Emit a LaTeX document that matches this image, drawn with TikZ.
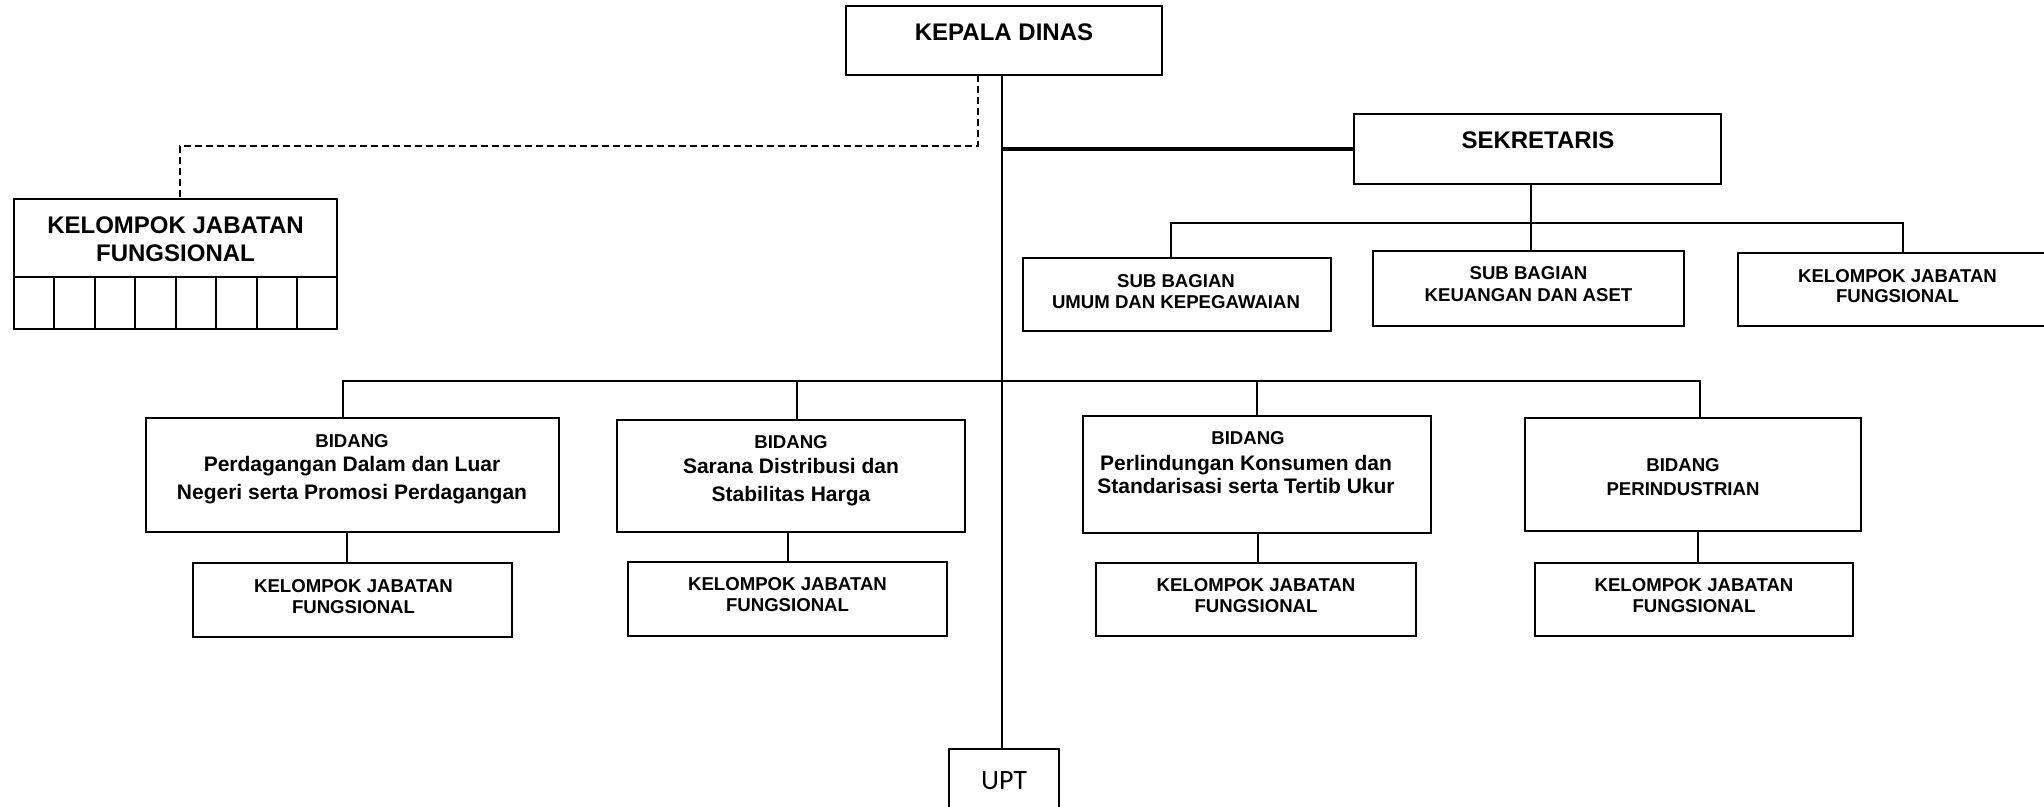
\documentclass[tikz,border=0pt]{standalone}
\usepackage{fontspec}
\setmainfont{Liberation Sans}
\newfontfamily\uptfont{Carlito}
\begin{document}
\begin{tikzpicture}[x=0.5pt,y=-0.5pt,
  box/.style={draw, line width=1pt, inner sep=0pt, outer sep=0pt},
  bigtxt/.style={anchor=base, inner sep=0pt, font=\fontsize{12pt}{14pt}\selectfont\bfseries},
  midtxt/.style={anchor=base, inner sep=0pt, font=\fontsize{10.5pt}{12.5pt}\selectfont\bfseries},
  smalltxt/.style={anchor=base, inner sep=0pt, font=\fontsize{9.3pt}{11pt}\selectfont\bfseries},
  link/.style={line width=1pt},
  thicklink/.style={line width=1.6pt},
  dashlink/.style={line width=1pt, dash pattern=on 3.5pt off 2pt}]
\useasboundingbox (0,0) rectangle (2044,807);

% boxes
\node[box, minimum width=158pt, minimum height=34.5pt] (kd) at (1004,40.5) {};
\node[box, minimum width=183.5pt, minimum height=35pt] (sek) at (1537.5,149) {};
\node[box, minimum width=161.5pt, minimum height=39pt] (kjfL) at (175.5,238) {};
\foreach \i/\cx in {1/34,2/74.5,3/115,4/155.5,5/196,6/236.5,7/277,8/317}
  \node[box, minimum width=20.25pt, minimum height=26pt] (cell\i) at (\cx,303) {};
\node[box, minimum width=154pt, minimum height=36.5pt] (sb1) at (1177,294.5) {};
\node[box, minimum width=155.5pt, minimum height=37.5pt] (sb2) at (1528.5,288.5) {};
\node[box, minimum width=159.5pt, minimum height=36.5pt] (kjfR) at (1897.5,289.5) {};
\node[box, minimum width=206.5pt, minimum height=57pt] (b1) at (352.5,475) {};
\node[box, minimum width=174pt, minimum height=56pt] (b2) at (791,476) {};
\node[box, minimum width=174pt, minimum height=58.5pt] (b3) at (1257,474.5) {};
\node[box, minimum width=168pt, minimum height=56.5pt] (b4) at (1693,474.5) {};
\node[box, minimum width=159.5pt, minimum height=37pt] (k1) at (352.5,600) {};
\node[box, minimum width=159.5pt, minimum height=37pt] (k2) at (787.5,599) {};
\node[box, minimum width=160pt, minimum height=36.5pt] (k3) at (1256,599.5) {};
\node[box, minimum width=159pt, minimum height=36.5pt] (k4) at (1694,599.5) {};
\node[box, minimum width=55pt, minimum height=36pt] (upt) at (1004,785) {};

% texts
\node[bigtxt] (tkd) at (1004,40.5) {KEPALA DINAS};
\node[bigtxt] (tsek) at (1538,148.5) {SEKRETARIS};
\node[bigtxt] (tkjfLa) at (175.5,234) {KELOMPOK JABATAN};
\node[bigtxt] (tkjfLb) at (175.5,261.5) {FUNGSIONAL};
\node[smalltxt] (tsb1a) at (1176,287.5) {SUB BAGIAN};
\node[smalltxt] (tsb1b) at (1176,308.5) {UMUM DAN KEPEGAWAIAN};
\node[smalltxt] (tsb2a) at (1528.5,280) {SUB BAGIAN};
\node[smalltxt] (tsb2b) at (1528.5,301.5) {KEUANGAN DAN ASET};
\node[smalltxt] (tkjfRa) at (1897.5,282.3) {KELOMPOK JABATAN};
\node[smalltxt] (tkjfRb) at (1897.5,302.5) {FUNGSIONAL};
\node[smalltxt] (tb1a) at (352,447.7) {BIDANG};
\node[midtxt] (tb1b) at (352,471.5) {Perdagangan Dalam dan Luar};
\node[midtxt] (tb1c) at (352,499.5) {Negeri serta Promosi Perdagangan};
\node[smalltxt] (tb2a) at (791,448.7) {BIDANG};
\node[midtxt] (tb2b) at (791,473.5) {Sarana Distribusi dan};
\node[midtxt] (tb2c) at (791,501.5) {Stabilitas Harga};
\node[smalltxt] (tb3a) at (1248,444.7) {BIDANG};
\node[midtxt] (tb3b) at (1246,470.5) {Perlindungan Konsumen dan};
\node[midtxt] (tb3c) at (1246,493.5) {Standarisasi serta Tertib Ukur};
\node[smalltxt] (tb4a) at (1683,471.7) {BIDANG};
\node[smalltxt] (tb4b) at (1683,495.7) {PERINDUSTRIAN};
\foreach \n/\cx/\ya/\yb in {k1/353.5/592.7/613.7, k2/787.5/590.7/611.7, k3/1256/591.7/612.7, k4/1694/591.7/612.7}{
  \node[smalltxt] (t\n a) at (\cx,\ya) {KELOMPOK JABATAN};
  \node[smalltxt] (t\n b) at (\cx,\yb) {FUNGSIONAL};
}
\node[anchor=base, inner sep=0pt, font=\uptfont\fontsize{14pt}{16pt}\selectfont] (tupt) at (1004,789) {UPT};

% connectors
\coordinate (trunk) at (1002,0);
\draw[link] (kd.south -| trunk) -- (upt.north -| trunk);
\draw[thicklink] (trunk |- sek.west) -- (sek.west);

\coordinate (dk) at (978,146);
\coordinate (dl) at (180,146);
\draw[dashlink] (kd.south -| dk) -- (dk) -- (dl) -- (dl |- kjfL.north);

\coordinate (sdrop) at (1531,223);
\coordinate (sbusL) at (1171,223);
\coordinate (sbusR) at (1903,223);
\draw[link] (sek.south -| sdrop) -- (sdrop) -- (sdrop |- sb2.north);
\draw[link] (sbusL |- sb1.north) -- (sbusL) -- (sbusR) -- (sbusR |- kjfR.north);

\coordinate (bb1) at (343,381);
\coordinate (bb2) at (796.5,381);
\coordinate (bb3) at (1257,381);
\coordinate (bb4) at (1700,381);
\draw[link] (bb1 |- b1.north) -- (bb1) -- (bb4) -- (bb4 |- b4.north);
\draw[link] (bb2) -- (bb2 |- b2.north);
\draw[link] (bb3) -- (bb3 |- b3.north);

\coordinate (kx1) at (347,0);
\coordinate (kx2) at (787.6,0);
\coordinate (kx3) at (1257.6,0);
\coordinate (kx4) at (1698,0);
\draw[link] (b1.south -| kx1) -- (k1.north -| kx1);
\draw[link] (b2.south -| kx2) -- (k2.north -| kx2);
\draw[link] (b3.south -| kx3) -- (k3.north -| kx3);
\draw[link] (b4.south -| kx4) -- (k4.north -| kx4);
\end{tikzpicture}
\end{document}
